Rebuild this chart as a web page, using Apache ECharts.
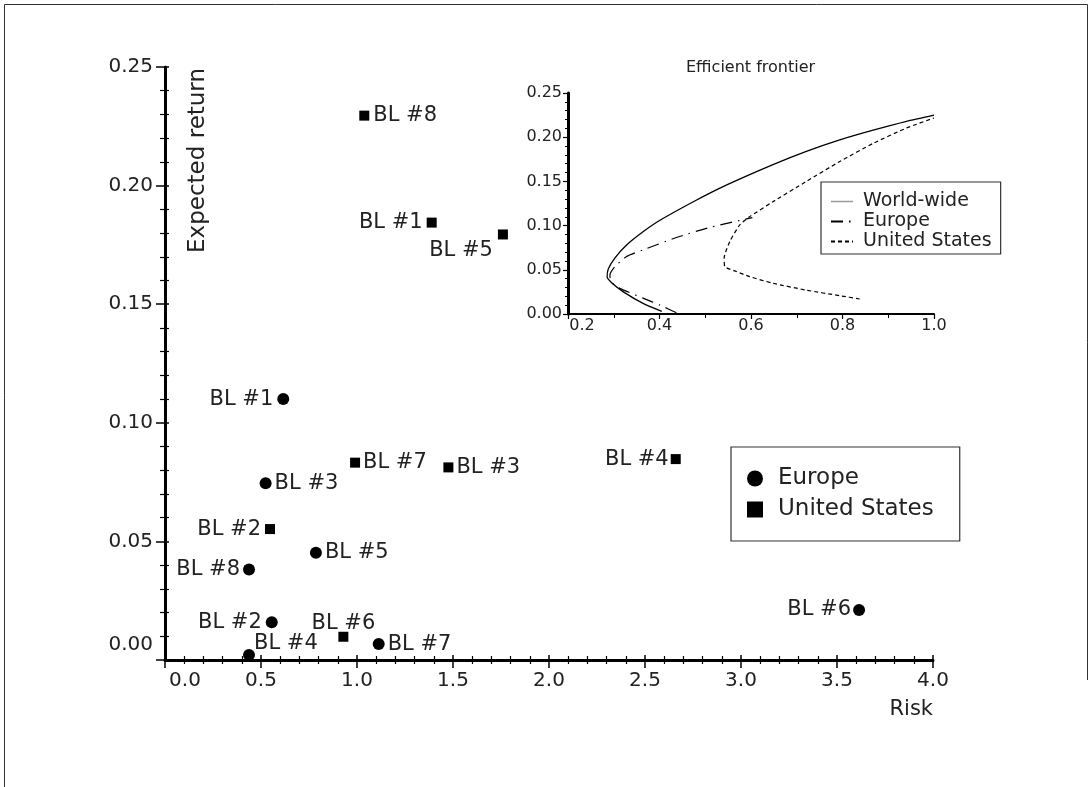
<!DOCTYPE html>
<html>
<head>
<meta charset="utf-8">
<script src="https://cdn.jsdelivr.net/npm/echarts@6/dist/echarts.min.js"></script>
<style>
html,body{margin:0;padding:0;background:#fff;}
#chart{width:1091px;height:787px;}
</style>
</head>
<body>
<div id="chart"></div>
<script>
// ---- Data ----
const europeNames  = ['BL #1','BL #2','BL #3','BL #4','BL #5','BL #6','BL #7','BL #8'];
const europeRisk   = [0.616, 0.556, 0.524, 0.4375, 0.786, 3.615, 1.113, 0.4375];
const europeReturn = [0.110, 0.0159, 0.0745, 0.0021, 0.0452, 0.0211, 0.0067, 0.0382];

const usNames  = ['BL #1','BL #2','BL #3','BL #4','BL #5','BL #6','BL #7','BL #8'];
const usRisk   = [1.389, 0.547, 1.476, 2.66, 1.760, 0.929, 0.990, 1.038];
const usReturn = [0.1844, 0.0552, 0.0812, 0.0847, 0.1794, 0.0098, 0.0832, 0.2295];

// Efficient frontier (inset)
const wwRisk   = [0.405, 0.364, 0.321, 0.296, 0.2855, 0.288, 0.302, 0.328, 0.364, 0.401, 0.474, 0.547, 0.648, 0.721, 0.794, 0.867, 0.940, 1.000];
const wwReturn = [0.003, 0.012, 0.025, 0.035, 0.042, 0.051, 0.063, 0.078, 0.093, 0.106, 0.127, 0.146, 0.169, 0.184, 0.197, 0.208, 0.218, 0.225];

const euFrRisk   = [0.437, 0.401, 0.364, 0.3135, 0.293, 0.2917, 0.3026, 0.328, 0.364, 0.437, 0.510, 0.603];
const euFrReturn = [0.0015, 0.010, 0.018, 0.029, 0.037, 0.044, 0.0536, 0.065, 0.0725, 0.0865, 0.098, 0.109];

const usFrRisk   = [0.8376, 0.794, 0.721, 0.648, 0.597, 0.568, 0.5428, 0.5413, 0.5537, 0.5755, 0.597, 0.648, 0.721, 0.794, 0.867, 0.9395, 1.000];
const usFrReturn = [0.017, 0.0207, 0.027, 0.0348, 0.0423, 0.048, 0.0536, 0.063, 0.082, 0.1008, 0.110, 0.127, 0.150, 0.1725, 0.193, 0.2103, 0.2217];

// ---- Label placement (style, kept apart from data) ----
const europeLabelStyle = [
  {position:'left', distance:4},
  {position:'left', distance:4},
  {position:'right', distance:3},
  {position:'right', distance:-1, offset:[0,-11]},
  {position:'right', distance:3},
  {position:'left', distance:2},
  {position:'right', distance:3},
  {position:'left', distance:3}
];
const usLabelStyle = [
  {position:'left', distance:4},
  {position:'left', distance:4},
  {position:'right', distance:3},
  {position:'left', distance:2},
  {position:'left', distance:5, offset:[0,16]},
  {position:'top', distance:-2},
  {position:'right', distance:3},
  {position:'right', distance:4}
];

const FONT = 'DejaVu Sans';
const TXT = '#222';

function pts(xs, ys){ return xs.map((x,i)=>[x, ys[i]]); }
function labelled(xs, ys, names, styles){
  return xs.map((x,i)=>({value:[x, ys[i]], name:names[i], label:styles[i]}));
}

const chart = echarts.init(document.getElementById('chart'), null, {renderer:'canvas'});

const option = {
  animation: false,
  backgroundColor: '#fff',
  textStyle: {fontFamily: FONT},
  title: {
    text: 'Efficient frontier', left: 681, top: 55,
    textStyle: {fontFamily: FONT, fontSize: 16, fontWeight: 'normal', color: TXT}
  },
  grid: [
    {left:165, top:67, width:768, height:593},
    {left:568, top:93, width:366, height:221}
  ],
  legend: [
    {
      orient:'vertical', left:731, top:447,
      padding:[20,26,20,16], itemWidth:16, itemHeight:16, itemGap:8,
      borderColor:'#333', borderWidth:1.2,
      selectedMode:false,
      itemStyle:{opacity:1},
      textStyle:{fontFamily:FONT, fontSize:23, color:TXT, padding:[0,0,0,10]},
      data:[{name:'Europe', icon:'circle'}, {name:'United States', icon:'rect'}]
    },
    {
      orient:'vertical', left:821, top:182,
      padding:[10,9,3,9], itemWidth:22, itemHeight:10, itemGap:1,
      borderColor:'#333', borderWidth:1.2,
      selectedMode:false,
      itemStyle:{opacity:0},
      textStyle:{fontFamily:FONT, fontSize:19, color:TXT, padding:[0,0,0,5]},
      formatter: n => n.replace('EF ', ''),
      data:[
        {name:'EF World-wide', lineStyle:{color:'#999', width:1.5}, itemStyle:{opacity:0}},
        {name:'EF Europe', itemStyle:{opacity:0}},
        {name:'EF United States', itemStyle:{opacity:0}}
      ]
    }
  ],
  xAxis: [
    { // main x
      gridIndex:0, type:'value', min:0, max:4, interval:0.5, position:'bottom',
      name:'Risk', nameLocation:'end', nameGap:0,
      nameTextStyle:{fontFamily:FONT, fontSize:21, color:TXT, align:'right', verticalAlign:'top', padding:[39,0,0,0]},
      axisLine:{onZero:false, lineStyle:{color:'#000', width:3}},
      axisTick:{length:8, lineStyle:{color:'#000', width:1.5}},
      minorTick:{show:true, splitNumber:5, length:4, lineStyle:{color:'#000', width:1.2}},
      splitLine:{show:false},
      axisLabel:{
        fontFamily:FONT, fontSize:20, color:TXT, margin:11,
        formatter: v => v === 0 ? '{z|0.0}' : v.toFixed(1),
        rich:{z:{fontFamily:FONT, fontSize:20, color:TXT, padding:[0,0,0,40]}}
      }
    },
    { // main x, inward ticks
      gridIndex:0, type:'value', min:0, max:4, interval:0.5, position:'bottom',
      axisLine:{show:false, onZero:false},
      axisTick:{inside:true, length:5, lineStyle:{color:'#000', width:1.5}},
      minorTick:{show:true, splitNumber:5, length:4, lineStyle:{color:'#000', width:1.2}},
      splitLine:{show:false}, axisLabel:{show:false}
    },
    { // inset x
      gridIndex:1, type:'value', min:0.2, max:1.0, interval:0.2, position:'bottom',
      axisLine:{onZero:false, lineStyle:{color:'#000', width:2}},
      axisTick:{length:5, lineStyle:{color:'#000', width:1.2}},
      minorTick:{show:true, splitNumber:2, length:4, lineStyle:{color:'#000', width:1}},
      splitLine:{show:false},
      axisLabel:{
        fontFamily:FONT, fontSize:16, color:TXT, margin:4,
        formatter: v => Math.abs(v-0.2) < 1e-9 ? '{z|0.2}' : v.toFixed(1),
        rich:{z:{fontFamily:FONT, fontSize:16, color:TXT, padding:[0,0,0,28]}}
      }
    }
  ],
  yAxis: [
    { // main y
      gridIndex:0, type:'value', min:0, max:0.25, interval:0.05, position:'left',
      name:'Expected return', nameLocation:'end', nameGap:-1, nameRotate:90,
      nameTextStyle:{fontFamily:FONT, fontSize:23, color:TXT, align:'right', verticalAlign:'top', padding:[22,0,0,0]},
      axisLine:{onZero:false, lineStyle:{color:'#000', width:3}},
      axisTick:{length:9, lineStyle:{color:'#000', width:1.5}},
      minorTick:{show:true, splitNumber:5, length:5, lineStyle:{color:'#000', width:1.2}},
      splitLine:{show:false},
      axisLabel:{
        fontFamily:FONT, fontSize:20, color:TXT, margin:12,
        formatter: v => v === 0 ? '{z|0.00}' : v.toFixed(2),
        rich:{z:{fontFamily:FONT, fontSize:20, color:TXT, padding:[0,0,30,0]}}
      }
    },
    { // main y, inward ticks
      gridIndex:0, type:'value', min:0, max:0.25, interval:0.05, position:'left',
      axisLine:{show:false, onZero:false},
      axisTick:{inside:true, length:4, lineStyle:{color:'#000', width:1.5}},
      minorTick:{show:true, splitNumber:5, length:4, lineStyle:{color:'#000', width:1.2}},
      splitLine:{show:false}, axisLabel:{show:false}
    },
    { // inset y
      gridIndex:1, type:'value', min:0, max:0.25, interval:0.05, position:'left',
      axisLine:{onZero:false, lineStyle:{color:'#000', width:3}},
      axisTick:{length:5, lineStyle:{color:'#000', width:1.2}},
      minorTick:{show:true, splitNumber:5, length:3, lineStyle:{color:'#000', width:1}},
      splitLine:{show:false},
      axisLabel:{fontFamily:FONT, fontSize:16, color:TXT, margin:6, formatter: v => v.toFixed(2)}
    }
  ],
  series: [
    {
      name:'Europe', type:'scatter', xAxisIndex:0, yAxisIndex:0,
      symbol:'circle', symbolSize:12, itemStyle:{color:'#000', opacity:1},
      label:{show:true, formatter:'{b}', fontFamily:FONT, fontSize:21, color:TXT},
      data: labelled(europeRisk, europeReturn, europeNames, europeLabelStyle)
    },
    {
      name:'United States', type:'scatter', xAxisIndex:0, yAxisIndex:0,
      symbol:'rect', symbolSize:10, itemStyle:{color:'#000', opacity:1},
      label:{show:true, formatter:'{b}', fontFamily:FONT, fontSize:21, color:TXT},
      data: labelled(usRisk, usReturn, usNames, usLabelStyle)
    },
    {
      name:'EF World-wide', type:'line', xAxisIndex:2, yAxisIndex:2,
      symbol:'none', smooth:0.2, itemStyle:{color:'#000'},
      lineStyle:{color:'#000', width:1.3, type:'solid'},
      data: pts(wwRisk, wwReturn)
    },
    {
      name:'EF Europe', type:'line', xAxisIndex:2, yAxisIndex:2,
      symbol:'none', smooth:0.2, itemStyle:{color:'#000'},
      lineStyle:{color:'#000', width:1.2, type:[12,6,1.5,6]},
      data: pts(euFrRisk, euFrReturn)
    },
    {
      name:'EF United States', type:'line', xAxisIndex:2, yAxisIndex:2,
      symbol:'none', smooth:0.2, itemStyle:{color:'#000'},
      lineStyle:{color:'#000', width:1.2, type:[4,3]},
      data: pts(usFrRisk, usFrReturn)
    }
  ],
  graphic: [
    {
      type:'polyline', silent:true,
      shape:{points:[[4.5,787],[4.5,4.5],[1087.5,4.5],[1087.5,680]]},
      style:{fill:null, stroke:'#333', lineWidth:1}
    }
  ]
};

chart.setOption(option);
</script>
</body>
</html>
